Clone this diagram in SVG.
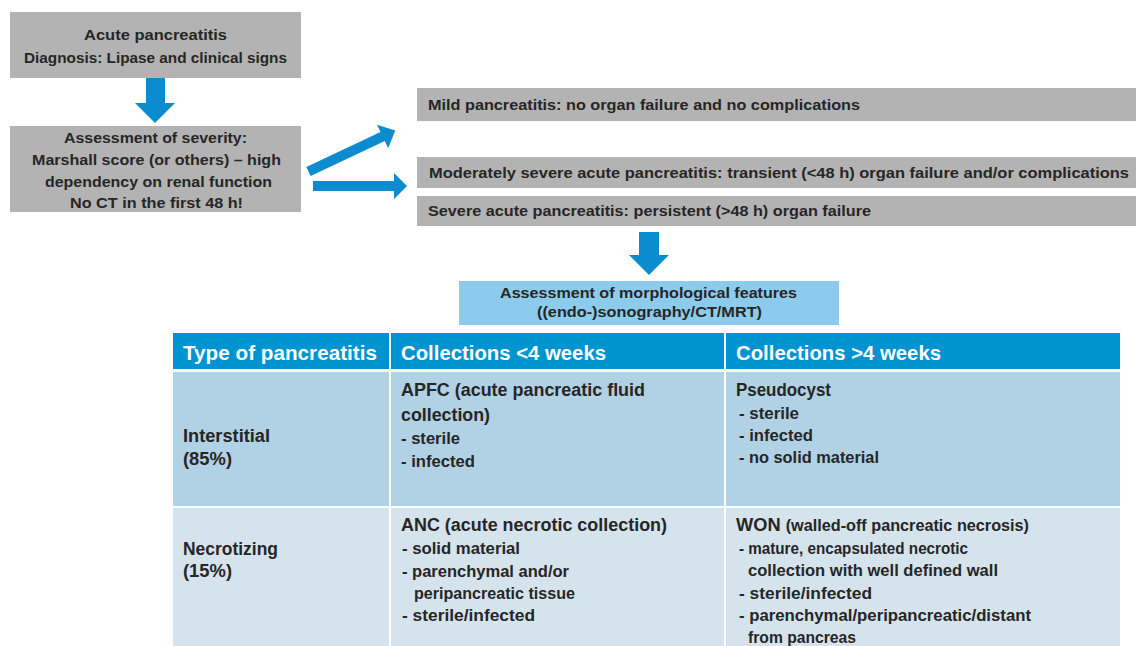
<svg xmlns="http://www.w3.org/2000/svg" width="1140" height="646" viewBox="0 0 1140 646">
<style>
.box{fill:#b3b3b3}
.arr{fill:#0a8ccf}
.t{font-family:"Liberation Sans",Arial,sans-serif;font-weight:bold;fill:#262626}
.b15{font-size:15px}
.hd{font-size:19.5px;fill:#ffffff}
.ti{font-size:18px}
.sm{font-size:16px}
.c{text-anchor:middle}
</style>
<rect width="1140" height="646" fill="#ffffff"/>

<g id="node-acute">
<rect class="box" x="10" y="12" width="291" height="66"/>
<text class="t b15 c" x="155.5" y="40" textLength="143" lengthAdjust="spacingAndGlyphs">Acute pancreatitis</text>
<text class="t b15 c" x="155.5" y="63" textLength="263" lengthAdjust="spacingAndGlyphs">Diagnosis: Lipase and clinical signs</text>
</g>

<g id="node-severity">
<rect class="box" x="10" y="126" width="291" height="86"/>
<text class="t b15 c" x="155.5" y="143" textLength="183" lengthAdjust="spacingAndGlyphs">Assessment of severity:</text>
<text class="t b15 c" x="156.5" y="165" textLength="249" lengthAdjust="spacingAndGlyphs">Marshall score (or others) – high</text>
<text class="t b15 c" x="158.5" y="186.5" textLength="227" lengthAdjust="spacingAndGlyphs">dependency on renal function</text>
<text class="t b15 c" x="156.5" y="208" textLength="173" lengthAdjust="spacingAndGlyphs">No CT in the first 48 h!</text>
</g>

<g id="node-mild">
<rect class="box" x="417" y="88" width="719" height="33"/>
<text class="t b15" x="428" y="109.5" textLength="432" lengthAdjust="spacingAndGlyphs">Mild pancreatitis: no organ failure and no complications</text>
</g>

<g id="node-moderate">
<rect class="box" x="417" y="157" width="719" height="31"/>
<text class="t b15" x="429" y="178" textLength="700" lengthAdjust="spacingAndGlyphs">Moderately severe acute pancreatitis: transient (&lt;48 h) organ failure and/or complications</text>
</g>

<g id="node-severe">
<rect class="box" x="417" y="196" width="719" height="30"/>
<text class="t b15" x="428" y="216" textLength="443" lengthAdjust="spacingAndGlyphs">Severe acute pancreatitis: persistent (&gt;48 h) organ failure</text>
</g>

<g id="node-morph">
<rect x="459" y="281" width="380" height="44" fill="#8ccbeb"/>
<text class="t b15 c" x="648.5" y="298" textLength="297" lengthAdjust="spacingAndGlyphs">Assessment of morphological features</text>
<text class="t b15 c" x="649.5" y="317" textLength="225" lengthAdjust="spacingAndGlyphs">((endo-)sonography/CT/MRT)</text>
</g>

<g id="connectors">
<polygon class="arr" points="146,78 165,78 165,103 175,103 155,123 135,103 146,103"/>
<polygon class="arr" points="0,-5 82,-5 82,-13 96,0 82,13 82,5 0,5" transform="translate(308.5,171.5) rotate(-25.3)"/>
<polygon class="arr" points="313,181 394,181 394,173 407,186 394,199 394,191 313,191"/>
<polygon class="arr" points="639,232 659,232 659,255 669,255 649,275 629,255 639,255"/>
</g>

<g id="node-table">
<rect x="173" y="333" width="216" height="36" fill="#0093d1"/>
<rect x="391" y="333" width="333" height="36" fill="#0093d1"/>
<rect x="726" y="333" width="394" height="36" fill="#0093d1"/>
<rect x="173" y="372" width="216" height="134" fill="#b1d1e5"/>
<rect x="391" y="372" width="333" height="134" fill="#b1d1e5"/>
<rect x="726" y="372" width="394" height="134" fill="#b1d1e5"/>
<rect x="173" y="508" width="216" height="138" fill="#d5e3ed"/>
<rect x="391" y="508" width="333" height="138" fill="#d5e3ed"/>
<rect x="726" y="508" width="394" height="138" fill="#d5e3ed"/>

<text class="t hd" x="183" y="360" textLength="194" lengthAdjust="spacingAndGlyphs">Type of pancreatitis</text>
<text class="t hd" x="401" y="360" textLength="205" lengthAdjust="spacingAndGlyphs">Collections &lt;4 weeks</text>
<text class="t hd" x="736" y="360" textLength="205" lengthAdjust="spacingAndGlyphs">Collections &gt;4 weeks</text>

<text class="t ti" x="183" y="442" textLength="87" lengthAdjust="spacingAndGlyphs">Interstitial</text>
<text class="t ti" x="183" y="465" textLength="49" lengthAdjust="spacingAndGlyphs">(85%)</text>

<text class="t ti" x="401" y="396" textLength="244" lengthAdjust="spacingAndGlyphs">APFC (acute pancreatic  fluid</text>
<text class="t ti" x="401" y="421" textLength="89" lengthAdjust="spacingAndGlyphs">collection)</text>
<text class="t sm" x="401" y="444" textLength="59" lengthAdjust="spacingAndGlyphs">- sterile</text>
<text class="t sm" x="401" y="467" textLength="74" lengthAdjust="spacingAndGlyphs">- infected</text>

<text class="t ti" x="736" y="396" textLength="95" lengthAdjust="spacingAndGlyphs">Pseudocyst</text>
<text class="t sm" x="739" y="419" textLength="60" lengthAdjust="spacingAndGlyphs">- sterile</text>
<text class="t sm" x="739" y="441" textLength="74" lengthAdjust="spacingAndGlyphs">- infected</text>
<text class="t sm" x="739" y="463" textLength="140" lengthAdjust="spacingAndGlyphs">- no solid material</text>

<text class="t ti" x="183" y="555" textLength="95" lengthAdjust="spacingAndGlyphs">Necrotizing</text>
<text class="t ti" x="183" y="577" textLength="49" lengthAdjust="spacingAndGlyphs">(15%)</text>

<text class="t ti" x="401" y="531" textLength="266" lengthAdjust="spacingAndGlyphs">ANC (acute necrotic  collection)</text>
<text class="t sm" x="402" y="554" textLength="118" lengthAdjust="spacingAndGlyphs">- solid material</text>
<text class="t sm" x="402" y="577" textLength="167" lengthAdjust="spacingAndGlyphs">- parenchymal and/or</text>
<text class="t sm" x="414" y="599" textLength="161" lengthAdjust="spacingAndGlyphs">peripancreatic tissue</text>
<text class="t sm" x="402" y="621" textLength="133" lengthAdjust="spacingAndGlyphs">- sterile/infected</text>

<text class="t ti" x="736" y="531" textLength="293" lengthAdjust="spacingAndGlyphs">WON <tspan class="sm">(walled-off pancreatic necrosis)</tspan></text>
<text class="t sm" x="739" y="554" textLength="229" lengthAdjust="spacingAndGlyphs">- mature, encapsulated necrotic</text>
<text class="t sm" x="748" y="576" textLength="250" lengthAdjust="spacingAndGlyphs">collection with well defined wall</text>
<text class="t sm" x="739" y="599" textLength="133" lengthAdjust="spacingAndGlyphs">- sterile/infected</text>
<text class="t sm" x="739" y="621" textLength="292" lengthAdjust="spacingAndGlyphs">- parenchymal/peripancreatic/distant</text>
<text class="t sm" x="748" y="643" textLength="108" lengthAdjust="spacingAndGlyphs">from pancreas</text>
</g>
</svg>
